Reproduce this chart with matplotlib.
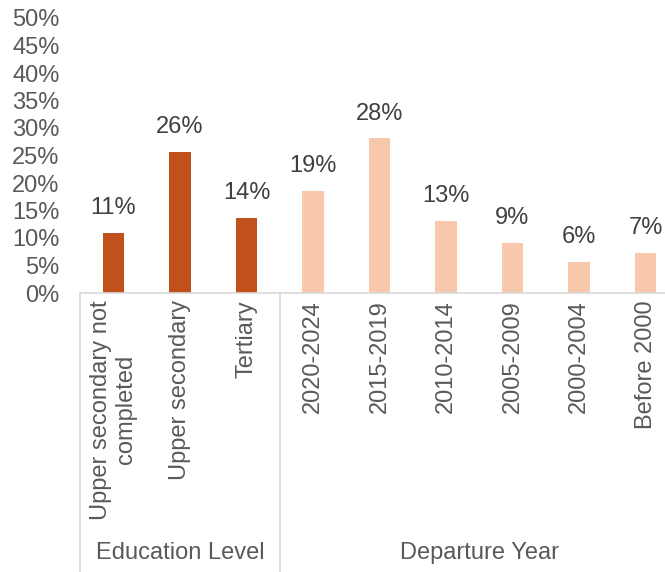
import matplotlib.pyplot as plt
from matplotlib.ticker import PercentFormatter

plt.rcParams['font.family'] = ['Liberation Sans', 'DejaVu Sans']

categories = ["Upper secondary not\ncompleted", "Upper secondary", "Tertiary",
              "2020-2024", "2015-2019", "2010-2014", "2005-2009", "2000-2004",
              "Before 2000"]
values = [10.9, 25.6, 13.6, 18.6, 28.1, 13.1, 9.1, 5.6, 7.3]
groups = ["Education Level", "Departure Year"]
group_sizes = [3, 6]

dark = "#C1501A"
light = "#F8C8AD"
colors = [dark] * group_sizes[0] + [light] * group_sizes[1]

W, H = 665, 572
fig = plt.figure(figsize=(W / 100, H / 100), dpi=100)
left, right, top, bottom = 80.25, 678.75, 18, 293
ax = fig.add_axes([left / W, (H - bottom) / H, (right - left) / W, (bottom - top) / H])

x = list(range(len(categories)))
ax.bar(x, values, width=0.32, color=colors, zorder=2)

for xi, v in zip(x, values):
    ax.annotate(f"{round(v)}%", (xi, v), xytext=(0, 10), textcoords="offset points",
                ha="center", va="bottom", fontsize=17, color="#404040")

ax.set_xlim(-0.5, len(categories) - 0.5)
ax.set_ylim(0, 50)
ax.set_yticks(range(0, 51, 5))
ax.yaxis.set_major_formatter(PercentFormatter(decimals=0))
ax.tick_params(axis="y", length=0, pad=15, labelsize=17, labelcolor="#595959")

ax.set_xticks(x)
ax.set_xticklabels(categories, rotation=90, va="top", ha="center", multialignment="center")
ax.tick_params(axis="x", length=0, pad=5, labelsize=17, labelcolor="#595959")

for s in ["top", "right", "left"]:
    ax.spines[s].set_visible(False)
ax.spines["bottom"].set_color("#D9D9D9")
ax.spines["bottom"].set_linewidth(1.2)

# group separators and group labels below the axis
depth = (H - bottom) / (bottom - top)
tr = ax.get_xaxis_transform()
edges = [-0.5]
for n in group_sizes:
    edges.append(edges[-1] + n)
for e in edges:
    ax.plot([e, e], [0, -depth], transform=tr, color="#D9D9D9", lw=1.2, clip_on=False)
for g, a, b in zip(groups, edges[:-1], edges[1:]):
    ax.text((a + b) / 2, -(553 - bottom) / (bottom - top), g, transform=tr,
            ha="center", va="center", fontsize=17, color="#595959")

fig.savefig("out.png", dpi=100)
